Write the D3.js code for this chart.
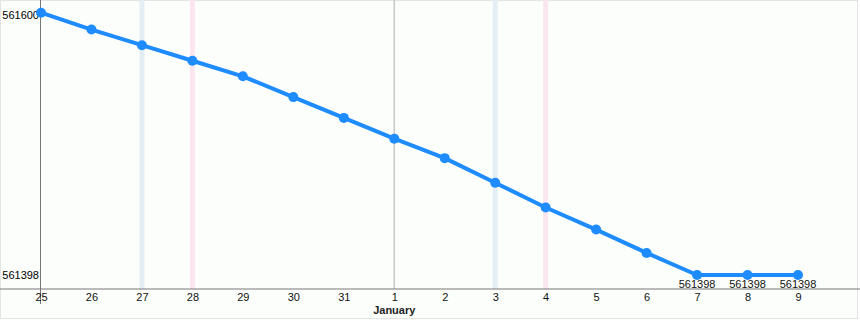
<html>
<head>
    <script src="https://d3js.org/d3.v7.min.js"></script>
    <style>
        body { margin: 0; background: #fff; }
        text { font-family: "Liberation Sans", Arial, sans-serif; }
    </style>
</head>
<body>
    <svg id="chart" width="860" height="320"></svg>
    <script>
        var days = ["25", "26", "27", "28", "29", "30", "31", "1", "2", "3", "4", "5", "6", "7", "8", "9"];
        var values = [561600, 561587, 561575, 561563, 561551, 561535, 561519, 561503, 561488, 561469, 561450, 561433, 561415, 561398, 561398, 561398];
        var yTicks = [561398, 561600];
        var saturdays = ["27", "3"];
        var sundays = ["28", "4"];
        var monthStart = "1";
        var monthName = "January";
        var labelled = ["7", "8", "9"];

        var svg = d3.select("#chart");
        var W = 860, H = 320;
        var axisY = 289;

        svg.append("rect")
            .attr("x", 0.5).attr("y", 0.5)
            .attr("width", W - 3).attr("height", H - 2)
            .attr("fill", "#fcfefc")
            .attr("stroke", "#e4e4e4");

        var x = d3.scalePoint()
            .domain(days)
            .range([41, 798]);

        var y = d3.scaleLinear()
            .domain([561398, 561600])
            .range([275, 12.7]);

        // weekend stripes
        svg.selectAll(".sat")
            .data(saturdays)
            .enter()
            .append("rect")
            .attr("x", (d) => x(d) - 2.5)
            .attr("y", 0)
            .attr("width", 5)
            .attr("height", axisY)
            .attr("fill", "#e3eff5");

        svg.selectAll(".sun")
            .data(sundays)
            .enter()
            .append("rect")
            .attr("x", (d) => x(d) - 2.5)
            .attr("y", 0)
            .attr("width", 5)
            .attr("height", axisY)
            .attr("fill", "#fbe6f0");

        svg.append("line")
            .attr("x1", x(monthStart)).attr("x2", x(monthStart))
            .attr("y1", 0).attr("y2", axisY)
            .attr("stroke", "#c8c8c8")
            .attr("stroke-width", 1.5);

        // axes
        svg.append("line")
            .attr("x1", 0).attr("x2", W)
            .attr("y1", axisY).attr("y2", axisY)
            .attr("stroke", "#777")
            .attr("stroke-width", 1);

        svg.append("line")
            .attr("x1", 40.5).attr("x2", 40.5)
            .attr("y1", 0).attr("y2", 304)
            .attr("stroke", "#777")
            .attr("stroke-width", 1);

        var xAxis = d3.axisBottom(x).tickSize(0).tickPadding(4);
        var gx = svg.append("g")
            .attr("transform", "translate(0," + axisY + ")")
            .call(xAxis);
        gx.select(".domain").remove();
        gx.selectAll("text")
            .attr("font-size", 11)
            .attr("font-family", "Liberation Sans, Arial, sans-serif")
            .attr("fill", "#111");

        svg.append("text")
            .attr("x", x(monthStart))
            .attr("y", 314)
            .attr("text-anchor", "middle")
            .attr("font-size", 11)
            .attr("font-weight", "bold")
            .attr("fill", "#222")
            .text(monthName);

        var yAxis = d3.axisLeft(y).tickValues(yTicks).tickSize(0).tickPadding(1)
            .tickFormat(d3.format("d"));
        var gy = svg.append("g")
            .attr("transform", "translate(40,0)")
            .call(yAxis);
        gy.select(".domain").remove();
        gy.selectAll("text")
            .attr("font-size", 11)
            .attr("font-family", "Liberation Sans, Arial, sans-serif")
            .attr("fill", "#000")
            .attr("dy", (d) => d == 561600 ? "0.55em" : "0.32em");

        // series
        var line = d3.line()
            .x((d, i) => x(days[i]))
            .y((d) => y(d));

        svg.append("path")
            .datum(values)
            .attr("d", line)
            .attr("fill", "none")
            .attr("stroke", "#1e8cff")
            .attr("stroke-width", 4)
            .attr("stroke-linejoin", "round");

        svg.selectAll(".pt")
            .data(values)
            .enter()
            .append("circle")
            .attr("cx", (d, i) => x(days[i]))
            .attr("cy", (d) => y(d))
            .attr("r", 5)
            .attr("fill", "#1e8cff");

        svg.selectAll(".lbl")
            .data(values.map((v, i) => ({ day: days[i], v: v })).filter((d) => labelled.indexOf(d.day) >= 0))
            .enter()
            .append("text")
            .attr("x", (d) => x(d.day))
            .attr("y", (d) => y(d.v) + 13)
            .attr("text-anchor", "middle")
            .attr("font-size", 11)
            .attr("fill", "#111")
            .text((d) => d.v);
    </script>
</body>
</html>
